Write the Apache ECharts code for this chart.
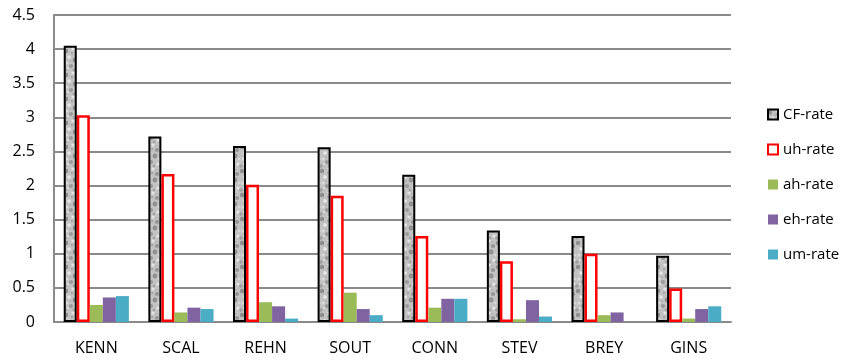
<!DOCTYPE html>
<html>
<head>
<meta charset="utf-8">
<script src="https://cdn.jsdelivr.net/npm/echarts@6/dist/echarts.min.js"></script>
<style>
  html, body { margin: 0; padding: 0; background: #fff; }
  #chart { width: 845px; height: 361px; }
</style>
</head>
<body>
<div id="chart"></div>
<script>
// Justices and their rates
const categories = ['KENN', 'SCAL', 'REHN', 'SOUT', 'CONN', 'STEV', 'BREY', 'GINS'];
const cfRate = [4.05, 2.72, 2.58, 2.56, 2.16, 1.34, 1.26, 0.97];
const uhRate = [3.03, 2.17, 2.01, 1.85, 1.26, 0.89, 1.00, 0.49];
const ahRate = [0.25, 0.14, 0.29, 0.43, 0.21, 0.04, 0.10, 0.05];
const ehRate = [0.36, 0.21, 0.23, 0.19, 0.34, 0.32, 0.14, 0.19];
const umRate = [0.38, 0.19, 0.05, 0.10, 0.34, 0.08, 0.00, 0.23];
const yTicks = [0, 0.5, 1, 1.5, 2, 2.5, 3, 3.5, 4, 4.5];

// Mottled grey fill for the CF-rate bars: soft dark and light flecks on grey
function mottled() {
  const c = document.createElement('canvas');
  c.width = 16; c.height = 24;
  const ctx = c.getContext('2d');
  ctx.fillStyle = '#c2c2c2';
  ctx.fillRect(0, 0, c.width, c.height);
  const flecks = [
    [2, 3, 2.2, '#8e8e8e'], [9, 1, 1.6, '#e4e4e4'], [13, 6, 2.0, '#969696'],
    [5, 9, 1.8, '#e8e8e8'], [11, 12, 2.4, '#909090'], [3, 15, 1.5, '#dcdcdc'],
    [7, 18, 2.0, '#9a9a9a'], [14, 20, 1.6, '#e6e6e6'], [1, 22, 1.8, '#a0a0a0'],
    [8, 5, 1.2, '#a6a6a6'], [15, 15, 1.3, '#d8d8d8'], [4, 20, 1.1, '#e0e0e0'],
    [10, 22, 1.4, '#a4a4a4'], [6, 13, 1.0, '#b0b0b0'], [12, 2, 1.0, '#b4b4b4']
  ];
  flecks.forEach(([x, y, r, col]) => {
    for (const dx of [-c.width, 0, c.width]) {
      for (const dy of [-c.height, 0, c.height]) {
        ctx.beginPath();
        ctx.fillStyle = col;
        ctx.arc(x + dx, y + dy, r, 0, Math.PI * 2);
        ctx.fill();
      }
    }
  });
  return c;
}

const font = '"Open Sans", Lato, sans-serif';
const chart = echarts.init(document.getElementById('chart'), null, { renderer: 'canvas' });

function barSeries(name, data, itemStyle) {
  return { name, type: 'bar', data, barGap: '0%', barCategoryGap: '23%', itemStyle };
}

chart.setOption({
  animation: false,
  backgroundColor: '#ffffff',
  textStyle: { fontFamily: font },
  grid: { left: 54, right: 114, top: 15, bottom: 39, containLabel: false },
  legend: {
    orient: 'vertical',
    left: 762,
    top: 102,
    itemWidth: 10,
    itemHeight: 10,
    itemGap: 20,
    itemStyle: { borderWidth: 2 },
    icon: 'rect',
    textStyle: { fontSize: 15, color: '#000', fontFamily: font },
    data: ['CF-rate', 'uh-rate', 'ah-rate', 'eh-rate', 'um-rate']
  },
  xAxis: {
    type: 'category',
    data: categories,
    axisLine: { lineStyle: { color: '#8a8a8a', width: 2 } },
    axisTick: { show: false },
    axisLabel: { color: '#000', fontSize: 16, margin: 18, fontFamily: font }
  },
  yAxis: {
    type: 'value',
    min: yTicks[0],
    max: yTicks[yTicks.length - 1],
    interval: 0.5,
    axisLine: { show: true, lineStyle: { color: '#8a8a8a', width: 2 } },
    axisTick: { show: false },
    axisLabel: { color: '#000', fontSize: 16, margin: 19, fontFamily: font },
    splitLine: { lineStyle: { color: '#8a8a8a', width: 2 } }
  },
  series: [
    barSeries('CF-rate', cfRate, {
      color: { image: mottled(), repeat: 'repeat' },
      borderColor: '#000', borderWidth: 2
    }),
    barSeries('uh-rate', uhRate, { color: '#ffffff', borderColor: '#ff0000', borderWidth: 2.5 }),
    barSeries('ah-rate', ahRate, { color: '#9bbb59', borderWidth: 0 }),
    barSeries('eh-rate', ehRate, { color: '#8064a2', borderWidth: 0 }),
    barSeries('um-rate', umRate, { color: '#4bacc6', borderWidth: 0 })
  ]
});
</script>
</body>
</html>
